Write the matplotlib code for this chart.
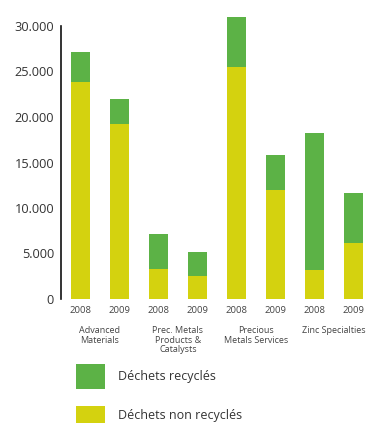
import matplotlib
matplotlib.use("Agg")
import matplotlib.pyplot as plt
from matplotlib.patches import Rectangle
from matplotlib.ticker import FuncFormatter

plt.rcParams['font.family'] = ['Open Sans', 'DejaVu Sans']

# data (tonnes)
years = ["2008", "2009", "2008", "2009", "2008", "2009", "2008", "2009"]
groups = ["Advanced\nMaterials", "Prec. Metals\nProducts &\nCatalysts",
          "Precious\nMetals Services", "Zinc Specialties"]
non_recycled = [23800, 19200, 3300, 2500, 25500, 12000, 3200, 6100]
total = [27100, 22000, 7100, 5200, 31000, 15800, 18200, 11700]
recycled = [t - n for t, n in zip(total, non_recycled)]

green = "#5cb246"
yellow = "#d4d20f"
txt = "#333333"

W, H = 367, 423
fig = plt.figure(figsize=(W / 100, H / 100), dpi=100)
# axes: left spine at x=61px, baseline at y=299px, top at y=10px
ax = fig.add_axes([61 / W, (H - 299) / H, (W - 61) / W, 289 / H])

x = list(range(len(years)))
ax.bar(x, non_recycled, width=0.49, color=yellow, linewidth=0)
ax.bar(x, recycled, width=0.49, bottom=non_recycled, color=green, linewidth=0)

ax.set_xlim(-0.5, 7.35)
ax.set_ylim(0, 289 / 9.1 * 1000)
ax.set_yticks(range(0, 30001, 5000))
ax.yaxis.set_major_formatter(FuncFormatter(lambda v, p: f"{int(v):,}".replace(",", ".")))
ax.tick_params(axis='y', length=0, pad=5, labelsize=9.2, labelcolor=txt)
ax.set_xticks(x)
ax.set_xticklabels(years)
ax.tick_params(axis='x', length=0, pad=5, labelsize=6.8, labelcolor="#444444")

for s in ["top", "right", "bottom"]:
    ax.spines[s].set_visible(False)
ax.spines["left"].set_bounds(0, 30000)
ax.spines["left"].set_linewidth(1.2)
ax.spines["left"].set_color("#111111")

# group labels under each pair of years
for i, g in enumerate(groups):
    ax.text(2 * i + 0.5, -0.095, g, transform=ax.get_xaxis_transform(),
            ha="center", va="top", fontsize=6.5, color="#444444",
            linespacing=1.05)

# legend drawn by hand
fig.add_artist(Rectangle((76 / W, (H - 389) / H), 29 / W, 25 / H,
                         transform=fig.transFigure, color=green, lw=0))
fig.add_artist(Rectangle((76 / W, (H - 431) / H), 29 / W, 25 / H,
                         transform=fig.transFigure, color=yellow, lw=0))
fig.text(118 / W, (H - 376) / H, "Déchets recyclés", fontsize=9,
         va="center", ha="left", color=txt)
fig.text(118 / W, (H - 415) / H, "Déchets non recyclés", fontsize=9,
         va="center", ha="left", color=txt)

fig.savefig("out.png", dpi=100)
